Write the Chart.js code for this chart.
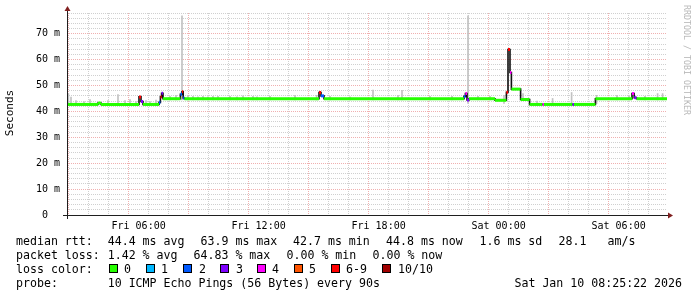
<!DOCTYPE html>
<html><head><meta charset="utf-8">
<script src="https://cdn.jsdelivr.net/npm/chart.js@4.4.1/dist/chart.umd.min.js"></script>
<style>
html,body{margin:0;padding:0;background:#fff;}
#wrap{position:relative;width:697px;height:297px;overflow:hidden;background:#fff;}
canvas{position:absolute;left:0;top:0;}
.t{position:absolute;font-family:"DejaVu Sans Mono",monospace;font-size:11.6px;line-height:14px;color:#000;white-space:pre;}
.sq{position:absolute;width:7px;height:7px;border:1px solid #000;}
.rot{position:absolute;white-space:pre;font-family:"DejaVu Sans Mono",monospace;text-align:center;line-height:14px;height:14px;}
</style></head><body>
<div id="wrap"><canvas id="c" width="697" height="297"></canvas></div>
<script>
// ---- data (hours since Fri 00:00, values in ms) ----
const medianTimes = [2.42, 3.97, 4.12, 6.02, 6.12, 6.22, 7.02, 7.09, 7.15, 7.22, 8.09, 8.17, 8.23, 8.29,
  15.02, 15.12, 15.27, 22.27, 22.34, 22.42, 22.52, 23.82, 24.39, 24.47, 24.57, 24.64, 25.10, 25.55,
  26.20, 26.27, 27.70, 27.77, 28.84, 30.67, 30.78, 30.90, 32.42];
const medianValues = [42.7, 43.2, 42.7, 45.6, 43.8, 42.7, 43.5, 45.6, 47.0, 44.9, 46.6, 47.6, 45.2, 44.9,
  47.3, 46.0, 44.9, 45.8, 46.9, 44.4, 44.9, 44.3, 47.4, 63.9, 55.0, 48.6, 44.6, 42.7,
  42.7, 42.7, 42.7, 42.7, 44.9, 46.9, 45.3, 44.9];
const medianLoss = [0, 0, 0, 6, 3, 0, 2, 6, 3, 0, 2, 6, 2, 0,
  6, 2, 0, 2, 4, 3, 0, 0, 6, 6, 4, 0, 0, 0,
  4, 0, 3, 0, 0, 4, 3, 0];
const smokeTimes = [2.49, 2.62, 2.87, 3.27, 3.57, 4.47, 4.97, 5.32, 5.57, 5.87, 6.37, 6.57, 6.87,
  7.57, 7.87, 8.17, 8.47, 8.72, 8.97, 9.22, 9.47, 9.72, 9.97, 10.57, 10.92, 11.22, 11.72, 11.92, 12.57,
  13.82, 14.90, 15.57, 16.57, 17.72, 18.97, 19.17, 20.57, 21.67, 22.47, 22.97, 23.57, 24.27,
  25.22, 25.92, 26.70, 27.65, 28.90, 29.92, 30.52, 31.32, 31.95, 32.20];
const smokeHigh = [46.9, 45.5, 44.2, 43.8, 44.6, 44.2, 46.5, 44.2, 44.6, 43.8, 44.2, 43.8, 44.4,
  45.8, 46.2, 76.9, 46.0, 45.8, 45.6, 45.8, 45.6, 45.8, 45.8, 45.8, 45.6, 46.0, 45.8, 45.6, 45.8,
  46.2, 46.2, 45.8, 45.6, 48.2, 46.2, 48.1, 45.8, 45.8, 76.9, 45.8, 45.8, 46.2,
  46.9, 44.0, 45.0, 47.3, 46.2, 46.2, 45.8, 45.8, 46.9, 46.9];
const smokeLow = [42.4, 42.4, 42.4, 42.4, 42.4, 42.4, 42.4, 42.4, 42.4, 42.4, 42.4, 42.4, 42.4,
  44.4, 44.4, 44.4, 44.4, 44.4, 44.4, 44.4, 44.4, 44.4, 44.4, 44.4, 44.4, 44.4, 44.4, 44.4, 44.4,
  44.4, 44.4, 44.4, 44.4, 44.4, 44.4, 44.4, 44.4, 44.4, 43.1, 44.4, 44.4, 43.1,
  44.4, 42.4, 42.4, 42.4, 43.0, 44.4, 44.4, 44.4, 44.4, 44.4];
const xTickHours = [6, 12, 18, 24, 30];
const xTickLabels = ['Fri 06:00', 'Fri 12:00', 'Fri 18:00', 'Sat 00:00', 'Sat 06:00'];
const yTickValues = [0, 10, 20, 30, 40, 50, 60, 70];
const yTickLabels = ['0  ', '10 m', '20 m', '30 m', '40 m', '50 m', '60 m', '70 m'];
const lossLabels = ['0', '1', '2', '3', '4', '5', '6-9', '10/10'];
const lossColors = ['#26ff00', '#00b8ff', '#0059ff', '#7e00ff', '#ff00ff', '#ff5500', '#ff0000', '#a10000'];
const statsRtt = ['44.4 ms avg', '63.9 ms max', '42.7 ms min', '44.8 ms now', '1.6 ms sd', '28.1', 'am/s'];
const statsLoss = ['1.42 % avg', '64.83 % max', '0.00 % min', '0.00 % now'];
const probeText = '10 ICMP Echo Pings (56 Bytes) every 90s';
const dateText = 'Sat Jan 10 08:25:22 2026';
const timeMin = 2.42, timeMax = 32.42, valMax = 78;

// ---- build datasets ----
const runPts = [];
for (let i = 0; i < medianValues.length; i++) {
  runPts.push({x: medianTimes[i], y: medianValues[i]}, {x: medianTimes[i + 1], y: medianValues[i]}, {x: medianTimes[i + 1], y: null});
}
const stepPts = medianValues.map((v, i) => ({x: medianTimes[i], y: v}));
stepPts.push({x: medianTimes[medianTimes.length - 1], y: medianValues[medianValues.length - 1]});
const smokePts = smokeTimes.map((t, i) => ({x: t, y: [smokeLow[i], smokeHigh[i]]}));

const MINOR = 'rgba(143,143,143,0.42)';
const MAJOR = 'rgba(222,79,79,0.45)';
const xGrid = []; for (let h = 3; h <= 32; h++) xGrid.push(h);
const yGrid = []; for (let v = 0; v <= valMax; v += 2) yGrid.push(v);

const axesPlugin = {
  id: 'rrdAxes',
  afterDatasetsDraw(chart) {
    const ctx = chart.ctx, a = chart.chartArea;
    ctx.save();
    ctx.strokeStyle = '#1f1f1f'; ctx.lineWidth = 1;
    ctx.beginPath();
    ctx.moveTo(a.left - 4, a.bottom + 0.5); ctx.lineTo(a.right + 2, a.bottom + 0.5);
    ctx.moveTo(a.left + 0.5, a.bottom + 4); ctx.lineTo(a.left + 0.5, a.top - 3);
    ctx.stroke();
    ctx.fillStyle = 'rgb(128,31,31)';
    ctx.beginPath();
    ctx.moveTo(a.right + 1, a.bottom - 2.5); ctx.lineTo(a.right + 1, a.bottom + 3.5); ctx.lineTo(a.right + 6, a.bottom + 0.5); ctx.closePath(); ctx.fill();
    ctx.beginPath();
    ctx.moveTo(a.left - 2.5, a.top - 2); ctx.lineTo(a.left + 3.5, a.top - 2); ctx.lineTo(a.left + 0.5, a.top - 7); ctx.closePath(); ctx.fill();
    ctx.restore();
  }
};

new Chart(document.getElementById('c'), {
  type: 'line',
  data: {
    datasets: [
      {type: 'line', data: runPts, order: 0, borderWidth: 3, borderCapStyle: 'butt', spanGaps: false, pointRadius: 0,
        borderColor: lossColors[0], segment: {borderColor: c => lossColors[medianLoss[Math.floor(c.p0DataIndex / 3)]]}},
      {type: 'line', data: stepPts, order: 1, borderWidth: 1.6, stepped: true, pointRadius: 0, borderColor: '#111'},
      {type: 'bar', data: smokePts, order: 2, barThickness: 1, grouped: false, backgroundColor: '#c2c2c2', borderWidth: 0}
    ]
  },
  options: {
    responsive: false, animation: false, devicePixelRatio: 1,
    layout: {padding: {left: 0, top: 12, right: 30, bottom: 0}},
    plugins: {legend: {display: false}, tooltip: {enabled: false}},
    scales: {
      x: {
        type: 'linear', min: timeMin, max: timeMax, offset: false,
        afterBuildTicks: s => { s.ticks = xGrid.map(v => ({value: v})); },
        afterFit: s => { s.height = 82; },
        grid: {color: c => (c.tick && c.tick.value % 3 === 0) ? MAJOR : MINOR, drawTicks: false, lineWidth: 1},
        border: {display: false, dash: [1, 1]},
        ticks: {autoSkip: false, maxRotation: 0, padding: 5, color: '#000', font: {family: 'DejaVu Sans Mono', size: 10},
          callback: v => { const k = xTickHours.indexOf(v); return k >= 0 ? xTickLabels[k] : ''; }}
      },
      y: {
        type: 'linear', min: 0, max: valMax,
        afterBuildTicks: s => { s.ticks = yGrid.map(v => ({value: v})); },
        afterFit: s => { s.width = 67; },
        grid: {color: c => (c.tick && c.tick.value % 10 === 0) ? MAJOR : MINOR, drawTicks: false, lineWidth: 1},
        border: {display: false, dash: [1, 1]},
        ticks: {autoSkip: false, padding: 7, color: '#000', font: {family: 'DejaVu Sans Mono', size: 10},
          callback: v => { const k = yTickValues.indexOf(v); return k >= 0 ? yTickLabels[k] : ''; }}
      }
    }
  },
  plugins: [axesPlugin]
});

// ---- text legend ----
const wrap = document.getElementById('wrap');
function txt(s, x, cy) {
  const d = document.createElement('div'); d.className = 't'; d.textContent = s;
  d.style.left = x + 'px'; d.style.top = (cy - 7) + 'px'; wrap.appendChild(d); return d;
}
txt('median rtt:', 16, 241);
[107.7, 200.5, 293, 386, 479.5, 558.5, 607.5].forEach((x, i) => txt(statsRtt[i], x, 241));
txt('packet loss:', 16, 255);
[107.7, 193.5, 286.5, 372.5].forEach((x, i) => txt(statsLoss[i], x, 255));
txt('loss color:', 16, 269);
const sqX = [109, 146, 183, 220, 257, 294, 331, 382];
const lbX = [124, 161, 199, 236, 272, 309, 346, 398];
lossLabels.forEach((l, i) => {
  const s = document.createElement('div'); s.className = 'sq'; s.style.background = lossColors[i];
  s.style.left = sqX[i] + 'px'; s.style.top = '264px'; wrap.appendChild(s);
  txt(l, lbX[i], 269);
});
txt('probe:', 16, 283);
txt(probeText, 107.7, 283);
const dt = txt(dateText, 0, 283); dt.style.left = 'auto'; dt.style.right = (697 - 682) + 'px';

const sec = document.createElement('div'); sec.className = 'rot'; sec.textContent = 'Seconds';
sec.style.cssText += 'left:-20px;top:106px;width:60px;font-size:11px;color:#000;transform:rotate(-90deg);';
wrap.appendChild(sec);
const wm = document.createElement('div'); wm.className = 'rot'; wm.textContent = 'RRDTOOL / TOBI OETIKER';
wm.style.cssText += 'left:627px;top:53px;width:120px;font-size:8.3px;color:#b8b8b8;transform:rotate(90deg);';
wrap.appendChild(wm);
</script>
</body></html>
